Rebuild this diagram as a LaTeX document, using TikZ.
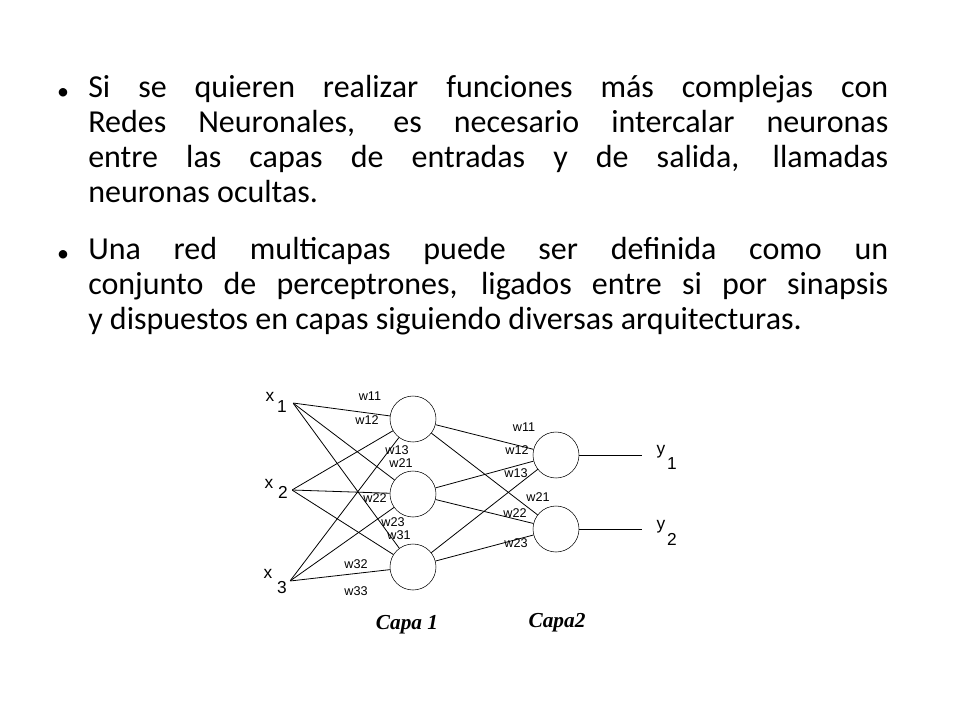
\documentclass[tikz,border=0pt]{standalone}
\usepackage{fontspec}
\setmainfont{Carlito}
\newfontfamily\arialf{Liberation Sans}
\newfontfamily\timesf{Liberation Serif}
\begin{document}
\begin{tikzpicture}[x=0.75bp,y=-0.75bp,
  neuron/.style={circle,draw,minimum size=34.5bp,inner sep=0pt},
  pt/.style={inner sep=0pt,minimum size=0pt},
  wl/.style={font=\arialf\fontsize{9.5bp}{10bp}\selectfont,inner sep=0pt},
  vl/.style={font=\arialf\fontsize{13bp}{14bp}\selectfont,inner sep=0pt},
  sl/.style={font=\arialf\fontsize{13bp}{14bp}\selectfont,inner sep=0pt},
  para/.style={anchor=north west,inner sep=0pt,text width=600bp,align=justify,font=\fontsize{24bp}{26.25bp}\selectfont},
  bul/.style={anchor=center,font=\fontsize{18bp}{20bp}\selectfont,inner sep=0pt},
  line/.style={draw,line width=0.6bp}]
\useasboundingbox (0,0) rectangle (960,720);
\node[bul] (b1) at (63,94) {•};
\node[bul] (b2) at (63,256) {•};
\node[para] (p1) at (88,75) {Si se quieren realizar funciones más complejas con\linebreak Redes Neuronales, es necesario intercalar neuronas\linebreak entre las capas de entradas y de salida, llamadas\linebreak neuronas ocultas.};
\node[para] (p2) at (88,237) {Una red multicapas puede ser definida como un\linebreak conjunto de perceptrones, ligados entre si por sinapsis\linebreak y dispuestos en capas siguiendo diversas arquitecturas.};
% network
\node[pt] (x1) at (293,403) {};
\node[pt] (x2) at (292,490) {};
\node[pt] (x3) at (290,581) {};
\node[neuron] (h1) at (413,419) {};
\node[neuron] (h2) at (413,494) {};
\node[neuron] (h3) at (413,567) {};
\node[neuron] (o1) at (556,455) {};
\node[neuron] (o2) at (556,529) {};
\coordinate (e1) at (642,455);
\coordinate (e2) at (642,529);
\foreach \a in {x1,x2,x3}{\foreach \b in {h1,h2,h3}{\draw[line] (\a) -- (\b);}}
\foreach \a in {h1,h2,h3}{\foreach \b in {o1,o2}{\draw[line] (\a) -- (\b);}}
\draw[line] (o1) -- (e1);
\draw[line] (o2) -- (e2);
% input/output labels
\node[vl] (lx1) at (270,397) {x}; \node[sl] (sx1) at (282,407) {1};
\node[vl] (lx2) at (269,484) {x}; \node[sl] (sx2) at (283,492) {2};
\node[vl] (lx3) at (268,574) {x}; \node[sl] (sx3) at (282,588) {3};
\node[vl] (ly1) at (661,452) {y}; \node[sl] (sy1) at (672,464) {1};
\node[vl] (ly2) at (661,527) {y}; \node[sl] (sy2) at (672,539) {2};
% weights
\node[wl] (a11) at (370,396) {w11};
\node[wl] (a12) at (367,420) {w12};
\node[wl] (a13) at (397,450) {w13};
\node[wl] (a21) at (401,463) {w21};
\node[wl] (a22) at (375,498) {w22};
\node[wl] (a23) at (393,522) {w23};
\node[wl] (a31) at (399,535) {w31};
\node[wl] (a32) at (356,564) {w32};
\node[wl] (a33) at (356,591) {w33};
\node[wl] (b11) at (524,427) {w11};
\node[wl] (b12) at (517,450) {w12};
\node[wl] (b13) at (516,473) {w13};
\node[wl] (b21) at (538,497) {w21};
\node[wl] (b22) at (515,513) {w22};
\node[wl] (b23) at (516,543) {w23};
\node[font=\timesf\bfseries\itshape\fontsize{16bp}{17bp}\selectfont,inner sep=0pt] (c1) at (407,625) {Capa 1};
\node[font=\timesf\bfseries\itshape\fontsize{16bp}{17bp}\selectfont,inner sep=0pt] (c2) at (557,623) {Capa2};
\end{tikzpicture}
\end{document}
